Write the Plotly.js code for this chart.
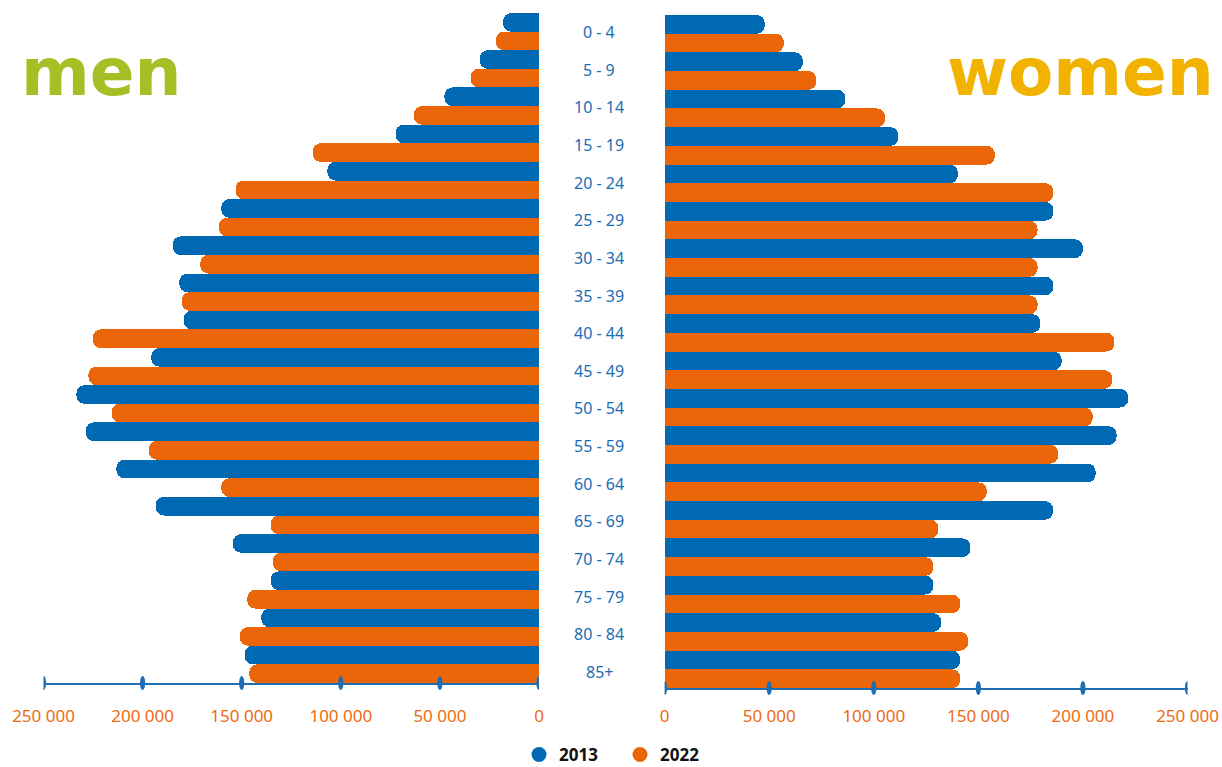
<!DOCTYPE html>
<html>
<head>
<meta charset="utf-8">
<script src="https://cdn.plot.ly/plotly-3.0.1.min.js"></script>
<style>html,body{margin:0;padding:0;background:#fff;}#chart{width:1222px;height:767px;}</style>
</head>
<body>
<div id="chart"></div>
<script>
// ---- data ----
var ages = ['0 - 4','5 - 9','10 - 14','15 - 19','20 - 24','25 - 29','30 - 34','35 - 39','40 - 44','45 - 49','50 - 54','55 - 59','60 - 64','65 - 69','70 - 74','75 - 79','80 - 84','85+'];
var men2013 = [18100, 29900, 47700, 72400, 106800, 160300, 184800, 181500, 179300, 195600, 233400, 228700, 213200, 193400, 154400, 135400, 140100, 148500];
var men2022 = [21700, 34500, 63100, 114200, 153100, 161500, 170900, 180300, 225100, 227300, 215600, 196900, 160300, 135400, 134200, 147200, 150900, 146200];
var women2013 = [47900, 66100, 86400, 111800, 140200, 185900, 200000, 185900, 179600, 189800, 221600, 216100, 206100, 185700, 146200, 128500, 132200, 141300];
var women2022 = [57000, 72600, 105400, 157900, 185900, 178300, 178300, 178300, 215100, 214000, 204700, 188200, 154000, 130900, 128500, 141300, 145100, 141300];
var tickVals = [0, 50000, 100000, 150000, 200000, 250000];
var tickText = ['0', '50 000', '100 000', '150 000', '200 000', '250 000'];
var seriesNames = ['2013', '2022'];

var BLUE = '#0069b4', ORANGE = '#eb6608', AXIS = '#1f6db3';
var LABEL_BLUE = '#1b6cb3', TICK_ORANGE = '#ee6a12';
var FONT = 'Noto Sans, sans-serif';

function bar(x, color, xa, ya) {
  return {type:'bar', orientation:'h', y:ages, x:x, xaxis:xa, yaxis:ya,
    marker:{color:color, cornerradius:8, line:{width:0}}, showlegend:false, hoverinfo:'skip'};
}
var traces = [
  bar(men2013, BLUE, 'x', 'y'),
  bar(men2022, ORANGE, 'x', 'y'),
  bar(women2013, BLUE, 'x2', 'y2'),
  bar(women2022, ORANGE, 'x2', 'y2'),
  {type:'scatter', mode:'markers', x:[null], y:[null], name:seriesNames[0], marker:{color:BLUE, size:15}, xaxis:'x', yaxis:'y', hoverinfo:'skip'},
  {type:'scatter', mode:'markers', x:[null], y:[null], name:seriesNames[1], marker:{color:ORANGE, size:15}, xaxis:'x', yaxis:'y', hoverinfo:'skip'}
];

function tickShapes(xref, yref) {
  return tickVals.map(function(v){
    return {type:'circle', xref:xref, yref:yref, xsizemode:'pixel', ysizemode:'pixel',
      xanchor:v, yanchor:0, x0:-2.6, x1:2.6, y0:-7, y1:7,
      fillcolor:AXIS, line:{width:0}, layer:'above'};
  });
}

var annotations = ages.map(function(a, i){
  return {xref:'paper', yref:'y3', x:599/1222, y:i, text:a, showarrow:false,
    xanchor:'center', yanchor:'middle', font:{family:FONT, size:16, color:LABEL_BLUE}};
});
annotations.push({xref:'paper', yref:'paper', x:101/1222, y:(767-72)/767, text:'men', showarrow:false,
  xanchor:'center', yanchor:'middle', font:{family:'DejaVu Sans, sans-serif', size:66, color:'#a6bf25', weight:'bold'}});
annotations.push({xref:'paper', yref:'paper', x:1080/1222, y:(767-72)/767, text:'women', showarrow:false,
  xanchor:'center', yanchor:'middle', font:{family:'DejaVu Sans, sans-serif', size:66, color:'#f2b300', weight:'bold'}});

var xCommon = {showgrid:false, zeroline:false, showline:true, linecolor:AXIS, linewidth:1.5,
  tickmode:'array', tickvals:tickVals, ticktext:tickText, ticks:'',
  tickfont:{family:FONT, size:17, color:TICK_ORANGE}, fixedrange:true, automargin:false};

var layout = {
  width:1222, height:767, margin:{l:0, r:0, t:0, b:0, autoexpand:false},
  paper_bgcolor:'#fff', plot_bgcolor:'rgba(0,0,0,0)',
  barmode:'group', bargap:0, bargroupgap:0,
  font:{family:FONT},
  xaxis: Object.assign({}, xCommon, {domain:[43.5/1222, 539/1222], range:[250000, 0], anchor:'y', ticklabelstandoff:17}),
  xaxis2: Object.assign({}, xCommon, {domain:[664.6/1222, 1187.5/1222], range:[0, 250000], anchor:'y2', ticklabelstandoff:12}),
  yaxis: {domain:[(767-683)/767, (767-13)/767], autorange:'reversed', showticklabels:false, showgrid:false, zeroline:false, showline:false, anchor:'x', fixedrange:true},
  yaxis2: {domain:[(767-688)/767, (767-15)/767], autorange:'reversed', showticklabels:false, showgrid:false, zeroline:false, showline:false, anchor:'x2', fixedrange:true},
  yaxis3: {domain:[(767-690.8)/767, (767-13.2)/767], range:[17.5, -0.5], visible:false, anchor:'free', position:0, showgrid:false, zeroline:false, fixedrange:true},
  shapes: tickShapes('x', 'y domain').concat(tickShapes('x2', 'y2 domain')),
  annotations: annotations,
  showlegend:true,
  legend:{orientation:'h', x:620/1222, xanchor:'center', y:(767-755)/767, yanchor:'middle',
    font:{family:FONT, size:17, color:'#111', weight:'bold'}, bgcolor:'rgba(0,0,0,0)', itemwidth:30, tracegroupgap:0, entrywidth:56}
};

Plotly.newPlot('chart', traces, layout, {displayModeBar:false, staticPlot:true});
</script>
</body>
</html>
